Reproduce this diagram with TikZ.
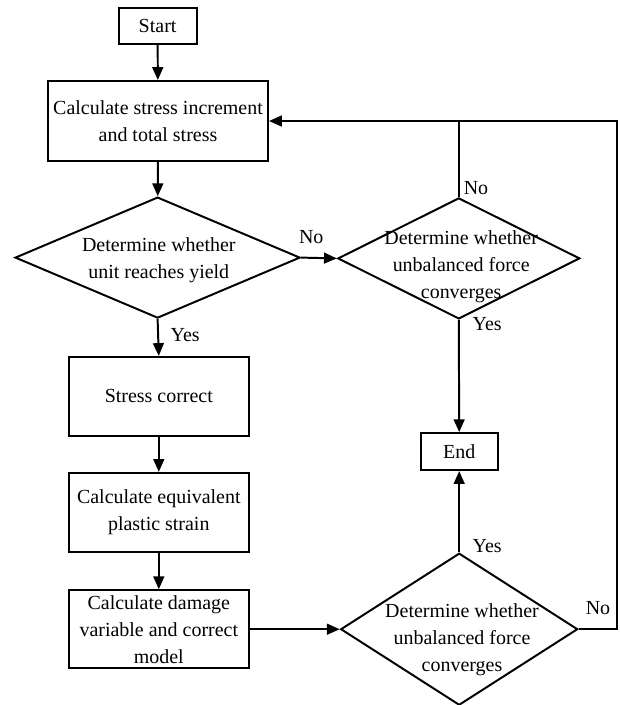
\documentclass[tikz,border=0pt]{standalone}
\usepackage{fontspec}
\setmainfont{Liberation Serif}
\usetikzlibrary{shapes.geometric,arrows.meta}

\tikzset{
    every node/.style={font=\fontsize{14.2}{19.2}\selectfont},
    box/.style={rectangle,draw=black,line width=1.4pt,inner sep=0pt,align=center},
    decision/.style={diamond,draw=black,line width=1.4pt,inner sep=0pt},
    flow/.style={draw=black,line width=1.4pt,-{Triangle[length=0.32cm,width=0.27cm]}},
    line/.style={draw=black,line width=1.4pt}
}

\begin{document}
\begin{tikzpicture}

    \useasboundingbox (0,0) rectangle (15.5,-17.625);

        \begin{scope}
            \node[box,minimum width=1.95cm,minimum height=0.9cm] (start) at (3.94,-0.65) {Start};
            \node[box,minimum width=5.5cm,minimum height=2cm] (calc) at (3.95,-3.025) {Calculate stress increment\\and total stress};
            \node[decision,minimum width=7.125cm,minimum height=3.025cm] (yield) at (3.94,-6.44) {};
            \node[decision,minimum width=6.05cm,minimum height=3.025cm] (conv1) at (11.47,-6.46) {};
            \node[box,minimum width=4.5cm,minimum height=1.975cm] (correct) at (3.97,-9.91) {Stress correct};
            \node[box,minimum width=4.5cm,minimum height=1.975cm] (plastic) at (3.97,-12.81) {Calculate equivalent\\plastic strain};
            \node[box,minimum width=4.5cm,minimum height=1.95cm] (damage) at (3.97,-15.73) {Calculate damage\\variable and correct\\model};
            \node[box,minimum width=1.925cm,minimum height=0.925cm] (end) at (11.48,-11.29) {End};
            \node[decision,minimum width=5.925cm,minimum height=3.8cm] (conv2) at (11.48,-15.73) {};
        \end{scope}

        % texts of the decisions
        \node[align=center] (yieldtext) at (3.97,-6.5) {Determine whether\\unit reaches yield};
        \node[align=center] (conv1text) at (11.53,-6.68) {Determine whether\\unbalanced force\\converges};
        \node[align=center] (conv2text) at (11.55,-16.0) {Determine whether\\unbalanced force\\converges};

        % yes / no
        \node (no1) at (7.78,-5.93) {No};
        \node (yes1) at (4.63,-8.38) {Yes};
        \node (no2) at (11.9,-4.7) {No};
        \node (yes2) at (12.18,-8.1) {Yes};
        \node (yes3) at (12.18,-13.65) {Yes};
        \node (no3) at (14.95,-15.2) {No};

        \coordinate (rtop) at (15.42,-3.025);
        \coordinate (rbot) at (15.42,-15.73);

        \begin{scope}
            \path [flow] (start) -- (calc);
            \path [flow] (calc) -- (yield);
            \path [flow] (yield.east) -- (conv1.west);
            \path [flow] (yield.south) -- (correct.north);
            \path [flow] (correct) -- (plastic);
            \path [flow] (plastic) -- (damage);
            \path [flow] (damage.east) -- (conv2.west);
            \path [flow] (conv1.south) -- (end.north);
            \path [flow] (conv2.north) -- (end.south);
            \path [line] (conv1.north) -- (conv1.north |- calc.east);
            \path [flow] (conv2.east) -- (rbot) -- (rtop) -- (calc.east);
        \end{scope}

    \end{tikzpicture}
\end{document}
